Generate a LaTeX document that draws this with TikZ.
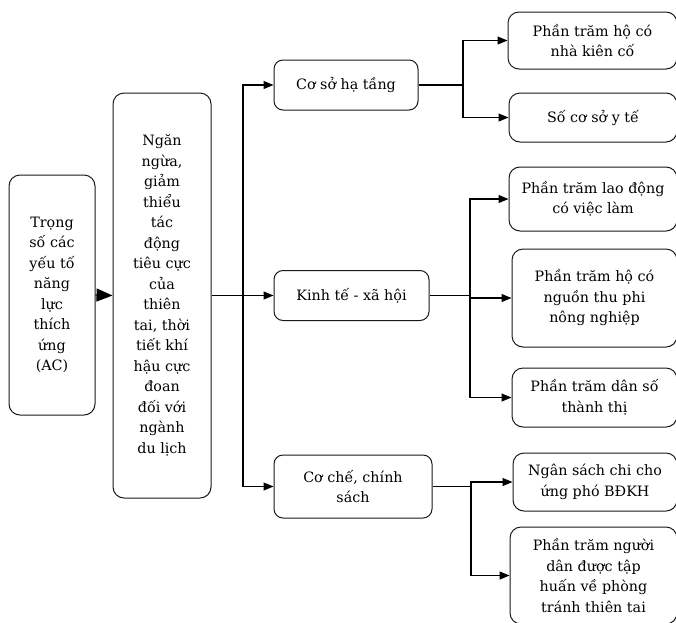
\documentclass[tikz,border=0pt]{standalone}
\usepackage{fontspec}
\setmainfont{DejaVu Serif}
\usetikzlibrary{arrows.meta}
\begin{document}
\begin{tikzpicture}[x=1pt,y=-1pt,
  box/.style={draw=black!90, line width=1pt, rounded corners=11pt, align=center,
    font=\fontsize{14.3}{20.5}\selectfont, text=black, inner sep=2pt},
  arr/.style={draw=black, line width=1.1pt, -{Triangle[length=10pt,width=8pt]}},
  bigarr/.style={draw=black, line width=1.1pt, -{Triangle[length=16pt,width=13pt]}}]
\useasboundingbox (0,0) rectangle (676,622);
\clip (0,0) rectangle (676,622);

% left boxes
\node[box, minimum width=86pt, minimum height=240pt] (ac) at (52,295)
  {Trọng\\số các\\yếu tố\\năng\\lực\\thích\\ứng\\(AC)};
\node[box, minimum width=98pt, minimum height=405pt] (mid) at (162,295.5)
  {Ngăn\\ngừa,\\giảm\\thiểu\\tác\\động\\tiêu cực\\của\\thiên\\tai, thời\\tiết khí\\hậu cực\\đoan\\đối với\\ngành\\du lịch};

% middle boxes
\node[box, rounded corners=9pt, minimum width=144pt, minimum height=50pt] (c1) at (346,85) {Cơ sở hạ tầng};
\node[box, rounded corners=9pt, minimum width=155pt, minimum height=50pt] (c2) at (351.5,295.5) {Kinh tế - xã hội};
\node[box, rounded corners=9pt, minimum width=158pt, minimum height=63pt] (c3) at (353,486.5) {Cơ chế, chính\\sách};

% right boxes
\node[box, minimum width=169pt, minimum height=57pt] (r1) at (592.5,40.5) {Phần trăm hộ có\\nhà kiên cố};
\node[box, minimum width=168pt, minimum height=49pt] (r2) at (593,117.5) {Số cơ sở y tế};
\node[box, minimum width=168pt, minimum height=64pt] (r3) at (593,199) {Phần trăm lao động\\có việc làm};
\node[box, minimum width=165pt, minimum height=98pt] (r4) at (594.5,298) {Phần trăm hộ có\\nguồn thu phi\\nông nghiệp};
\node[box, minimum width=165pt, minimum height=59pt] (r5) at (594.5,397.5) {Phần trăm dân số\\thành thị};
\node[box, minimum width=164pt, minimum height=58pt] (r6) at (595,482) {Ngân sách chi cho\\ứng phó BĐKH};
\node[box, minimum width=167pt, minimum height=97pt] (r7) at (593.5,575.5) {Phần trăm người\\dân được tập\\huấn về phòng\\tránh thiên tai};

% junction coordinates
\coordinate (b) at (243,295.5);
\coordinate (j1) at (463,85);
\coordinate (j2) at (470,295.5);
\coordinate (j3) at (471,486.5);

% connectors
\draw[bigarr] (ac.east) -- (mid.west);
\draw[arr] (mid.east) -- (c2.west);
\draw[arr] (b) |- (c1.west);
\draw[arr] (b) |- (c3.west);

\draw[arr] (c1.east) -- (j1) |- (r1.west);
\draw[arr] (j1) |- (r2.west);

\draw[arr] (c2.east) -- (j2) |- (r3.west);
\draw[arr] (j2) |- (r4.west);
\draw[arr] (j2) |- (r5.west);

\draw[arr] (c3.east) -- (j3) |- (r6.west);
\draw[arr] (j3) |- (r7.west);
\end{tikzpicture}
\end{document}
